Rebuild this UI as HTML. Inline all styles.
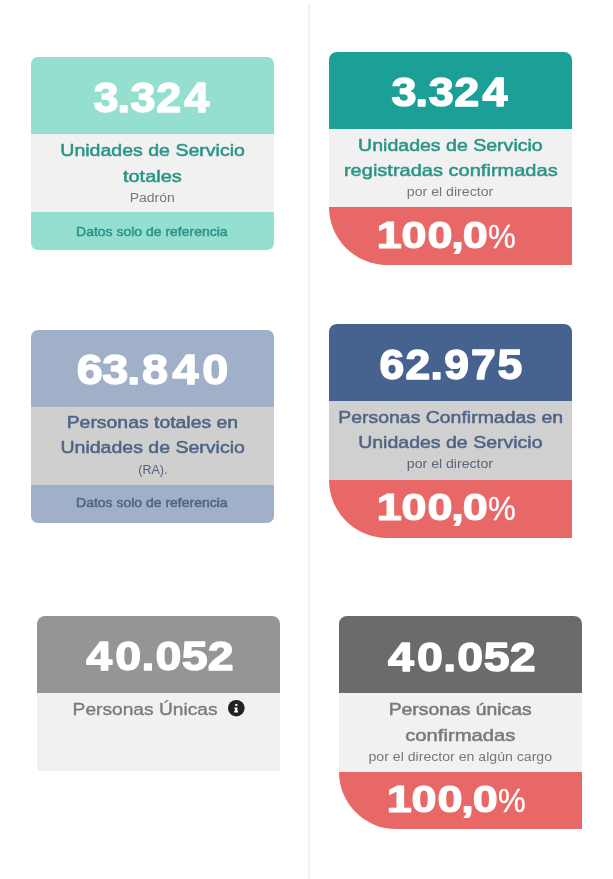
<!DOCTYPE html>
<html><head><meta charset="utf-8"><title>Resumen</title>
<style>
html,body{margin:0;padding:0;background:#ffffff;}
body{width:613px;height:879px;position:relative;overflow:hidden;font-family:"Liberation Sans",Arial,sans-serif;}
.divider{position:absolute;left:308px;top:4px;width:2px;height:875px;background:#f1f1f1;}
.card{position:absolute;}
.txt{position:absolute;left:0;top:0;will-change:transform;font-family:"Liberation Sans",Arial,sans-serif;}
</style></head><body>
<div class="divider"></div>
<div class="card" style="left:31px;top:57px;width:243px;"><div style="height:77px;background:#95dfd0;border-radius:7px 7px 0 0"></div><div style="height:78px;background:#f1f1f1;"></div><div style="height:38px;background:#95dfd0;border-radius:0 0 7px 7px"></div></div><div class="card" style="left:329px;top:52px;width:243px;"><div style="height:77px;background:#1b9f97;border-radius:8px 8px 0 0"></div><div style="height:78px;background:#f1f1f1;"></div><div style="height:58px;background:#e86867;border-bottom-left-radius:58px"></div></div><div class="card" style="left:31px;top:330px;width:243px;"><div style="height:77px;background:#9fb0c8;border-radius:7px 7px 0 0"></div><div style="height:78px;background:#cfcfcf;"></div><div style="height:38px;background:#9fb0c8;border-radius:0 0 7px 7px"></div></div><div class="card" style="left:329px;top:324px;width:243px;"><div style="height:77px;background:#45638e;border-radius:8px 8px 0 0"></div><div style="height:79px;background:#d0d0d0;"></div><div style="height:57.5px;background:#e86867;border-bottom-left-radius:58px"></div></div><div class="card" style="left:37px;top:616px;width:243px;"><div style="height:77px;background:#959595;border-radius:8px 8px 0 0"></div><div style="height:78px;background:#f1f1f1;"></div></div><div class="card" style="left:339px;top:616px;width:243px;"><div style="height:77px;background:#6b6b6b;border-radius:8px 8px 0 0"></div><div style="height:79px;background:#f1f1f1;"></div><div style="height:57px;background:#e86867;border-bottom-left-radius:57px"></div></div>
<svg class="txt" width="613" height="879" viewBox="0 0 613 879"><text transform="matrix(1.0709 0 0 1 93.67 111.65)" font-size="41.88" fill="#ffffff" stroke="#ffffff" stroke-width="1.49" stroke-linejoin="round"><tspan x="-0.17 22.20 34.52 58.38 84.71" font-weight="700">3.324</tspan></text><text transform="matrix(1.0927 0 0 1 391.77 106.46)" font-size="41.04" fill="#ffffff" stroke="#ffffff" stroke-width="1.46" stroke-linejoin="round"><tspan x="-0.17 21.75 33.83 57.21 83.02" font-weight="700">3.324</tspan></text><text transform="matrix(1.0839 0 0 1 76.95 384.33)" font-size="43.13" fill="#ffffff" stroke="#ffffff" stroke-width="1.48" stroke-linejoin="round"><tspan x="-0.18 23.45 46.34 59.97 88.11 115.52" font-weight="700">63.840</tspan></text><text transform="matrix(1.0507 0 0 1 379.03 378.94)" font-size="42.30" fill="#ffffff" stroke="#ffffff" stroke-width="1.52" stroke-linejoin="round"><tspan x="0.45 25.19 48.94 62.03 87.58 112.75" font-weight="700">62.975</tspan></text><text transform="matrix(1.1288 0 0 1 85.70 670.46)" font-size="41.18" fill="#ffffff" stroke="#ffffff" stroke-width="1.42" stroke-linejoin="round"><tspan x="0.47 26.21 49.35 61.82 85.17 108.23" font-weight="700">40.052</tspan></text><text transform="matrix(1.1250 0 0 1 387.20 670.55)" font-size="41.32" fill="#ffffff" stroke="#ffffff" stroke-width="1.42" stroke-linejoin="round"><tspan x="0.73 26.57 49.79 62.30 85.72 108.86" font-weight="700">40.052</tspan></text><text transform="matrix(1.2266 0 0 1 383.01 248.40)" font-size="36.69" fill="#ffffff" stroke="#ffffff" stroke-width="1.14" stroke-linejoin="round"><tspan x="-5.20 15.03 36.18 55.69 65.00" font-weight="700">100,0</tspan></text><text transform="matrix(0.9529 0 0 1 488.08 248.14)" font-size="32.70" fill="#ffffff" stroke="#ffffff" stroke-width="0.31" stroke-linejoin="round"><tspan font-weight="400">%</tspan></text><text transform="matrix(1.2313 0 0 1 383.01 520.20)" font-size="36.55" fill="#ffffff" stroke="#ffffff" stroke-width="1.14" stroke-linejoin="round"><tspan x="-5.18 14.97 36.04 55.47 64.75" font-weight="700">100,0</tspan></text><text transform="matrix(0.9529 0 0 1 488.08 520.24)" font-size="32.70" fill="#ffffff" stroke="#ffffff" stroke-width="0.31" stroke-linejoin="round"><tspan font-weight="400">%</tspan></text><text transform="matrix(1.2410 0 0 1 393.01 812.40)" font-size="36.27" fill="#ffffff" stroke="#ffffff" stroke-width="1.13" stroke-linejoin="round"><tspan x="-5.14 14.85 35.76 55.04 64.25" font-weight="700">100,0</tspan></text><text transform="matrix(0.9529 0 0 1 498.08 812.44)" font-size="32.70" fill="#ffffff" stroke="#ffffff" stroke-width="0.31" stroke-linejoin="round"><tspan font-weight="400">%</tspan></text><text transform="matrix(1.1848 0 0 1 60.28 156.10)" font-size="16.50" fill="#2b9488" stroke="#2b9488" stroke-width="0.51" stroke-linejoin="round"><tspan font-weight="400">Unidades de Servicio</tspan></text><text transform="matrix(1.2081 0 0 1 123.00 181.90)" font-size="16.50" fill="#2b9488" stroke="#2b9488" stroke-width="0.50" stroke-linejoin="round"><tspan font-weight="400">totales</tspan></text><text transform="matrix(1.1848 0 0 1 358.08 151.40)" font-size="16.50" fill="#2b9488" stroke="#2b9488" stroke-width="0.51" stroke-linejoin="round"><tspan font-weight="400">Unidades de Servicio</tspan></text><text transform="matrix(1.2143 0 0 1 343.95 176.20)" font-size="16.50" fill="#2b9488" stroke="#2b9488" stroke-width="0.49" stroke-linejoin="round"><tspan font-weight="400">registradas confirmadas</tspan></text><text transform="matrix(1.1864 0 0 1 66.68 428.30)" font-size="16.36" fill="#4f6585" stroke="#4f6585" stroke-width="0.51" stroke-linejoin="round"><tspan font-weight="400">Personas totales en</tspan></text><text transform="matrix(1.1938 0 0 1 60.48 453.20)" font-size="16.36" fill="#4f6585" stroke="#4f6585" stroke-width="0.50" stroke-linejoin="round"><tspan font-weight="400">Unidades de Servicio</tspan></text><text transform="matrix(1.1894 0 0 1 338.18 423.30)" font-size="16.36" fill="#4f6585" stroke="#4f6585" stroke-width="0.50" stroke-linejoin="round"><tspan font-weight="400">Personas Confirmadas en</tspan></text><text transform="matrix(1.1925 0 0 1 358.18 448.20)" font-size="16.36" fill="#4f6585" stroke="#4f6585" stroke-width="0.50" stroke-linejoin="round"><tspan font-weight="400">Unidades de Servicio</tspan></text><text transform="matrix(1.1635 0 0 1 72.60 715.10)" font-size="16.50" fill="#7a7a7a" stroke="#7a7a7a" stroke-width="0.34" stroke-linejoin="round"><tspan font-weight="400">Personas Únicas</tspan></text><text transform="matrix(1.1828 0 0 1 388.69 715.40)" font-size="16.36" fill="#7a7a7a" stroke="#7a7a7a" stroke-width="0.51" stroke-linejoin="round"><tspan font-weight="400">Personas únicas</tspan></text><text transform="matrix(1.2389 0 0 1 405.17 740.50)" font-size="16.36" fill="#7a7a7a" stroke="#7a7a7a" stroke-width="0.48" stroke-linejoin="round"><tspan font-weight="400">confirmadas</tspan></text><text transform="matrix(1.1195 0 0 1 129.71 201.90)" font-size="12.52" fill="#777777"><tspan font-weight="400">Padrón</tspan></text><text transform="matrix(1.1298 0 0 1 406.82 196.20)" font-size="12.52" fill="#777777"><tspan font-weight="400">por el director</tspan></text><text transform="matrix(1.0007 0 0 1 138.21 473.60)" font-size="12.52" fill="#56657d"><tspan font-weight="400">(RA).</tspan></text><text transform="matrix(1.1285 0 0 1 406.82 468.20)" font-size="12.52" fill="#56657d"><tspan font-weight="400">por el director</tspan></text><text transform="matrix(1.1287 0 0 1 368.52 760.50)" font-size="12.52" fill="#777777"><tspan font-weight="400">por el director en algún cargo</tspan></text><text transform="matrix(1.1774 0 0 1 76.08 235.53)" font-size="11.88" fill="#2b9488" stroke="#2b9488" stroke-width="0.47" stroke-linejoin="round"><tspan font-weight="400">Datos solo de referencia</tspan></text><text transform="matrix(1.1774 0 0 1 76.08 507.43)" font-size="11.88" fill="#4f6585" stroke="#4f6585" stroke-width="0.47" stroke-linejoin="round"><tspan font-weight="400">Datos solo de referencia</tspan></text><g transform="translate(236.3 708.2)"><circle r="8.3" fill="#222"/><rect x="-1.2" y="-4.3" width="2.4" height="2.2" rx="0.8" fill="#fff"/><path d="M-2.0 -0.7 H1.1 V2.9 H1.7 V4.4 H-2.1 V2.9 H-1.4 V0.4 H-2.0 Z" fill="#fff"/></g></svg>
</body></html>
